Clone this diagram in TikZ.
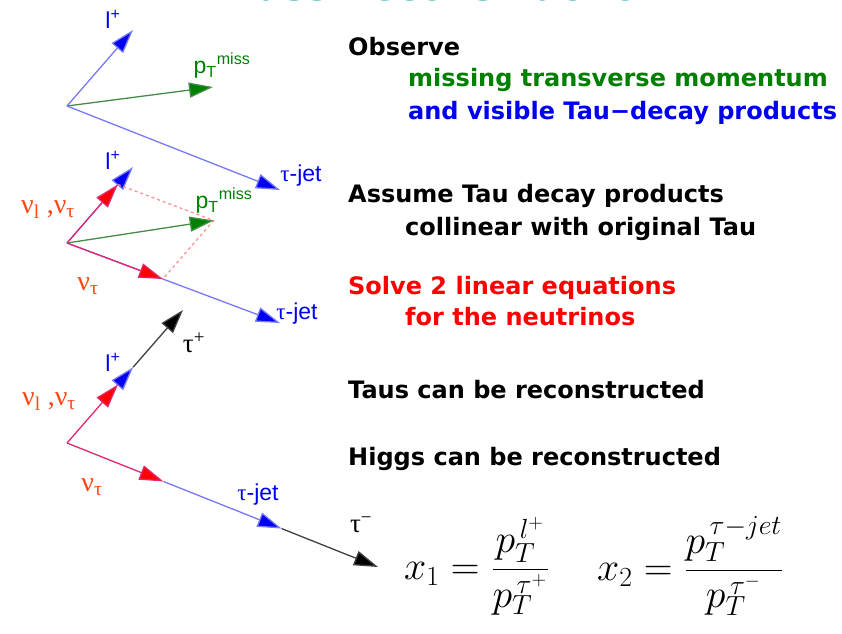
\documentclass[tikz,border=0pt]{standalone}
\usepackage{fontspec}
\setmainfont{Liberation Sans}
\newfontfamily\headfont{DejaVu Sans}
\newfontfamily\greekfont{Liberation Serif}
\usetikzlibrary{arrows.meta,calc}

\definecolor{vecblue}{RGB}{0,0,240}
\definecolor{lineblue}{RGB}{120,120,250}
\definecolor{vecgreen}{RGB}{0,128,0}
\definecolor{linegreen}{RGB}{70,140,70}
\definecolor{vecred}{RGB}{255,0,0}
\definecolor{linered}{RGB}{225,40,110}
\definecolor{nulabel}{RGB}{255,70,20}
\definecolor{titleteal}{RGB}{0,150,150}

\tikzset{
  vecarrow/.style={line width=1.3pt, -{Triangle[length=24pt,width=15pt]}},
  headtext/.style={font=\headfont\bfseries\fontsize{24}{28}\selectfont, inner sep=0pt, anchor=base west},
  veclabel/.style={font=\fontsize{23}{27}\selectfont, inner sep=0pt},
  nulabel/.style={font=\greekfont\fontsize{28}{32}\selectfont, text=nulabel, inner sep=0pt},
  taulabel/.style={font=\greekfont\fontsize{27}{31}\selectfont, inner sep=0pt},
  eqtext/.style={font=\fontsize{24}{29}\selectfont, anchor=west, inner sep=0pt},
}

\begin{document}
\begin{tikzpicture}[x=1pt, y=-1pt]
\useasboundingbox (0,0) rectangle (842,633);

% title, cut off at the top edge
\begin{scope}
  \clip (0,0) rectangle (842,633);
  \node[font=\headfont\bfseries\fontsize{38}{42}\selectfont, text=titleteal, anchor=base, inner sep=0pt] (title) at (443,0.8) {Mass Reconstruction};
\end{scope}

% observed vectors
\coordinate (o1) at (67,106);
\coordinate (l1) at (133,30);
\coordinate (m1) at (213,87);
\coordinate (j1) at (280,190);
\draw[vecarrow, lineblue, -{Triangle[length=24pt,width=15pt,fill=vecblue]}] (o1) -- (l1);
\draw[vecarrow, linegreen, -{Triangle[length=24pt,width=15pt,fill=vecgreen]}] (o1) -- (m1);
\draw[vecarrow, lineblue, -{Triangle[length=24pt,width=15pt,fill=vecblue]}] (o1) -- (j1);
\node[veclabel, text=vecblue] (lab-l1) at (113,19) {l\textsuperscript{+}};
\node[veclabel, text=vecgreen] (lab-m1) at (222,66) {p\textsubscript{T}\textsuperscript{miss}};
\node[veclabel, text=vecblue] (lab-j1) at (301,176) {{\greekfont τ}-jet};

% collinear assumption
\coordinate (o2) at (67,243);
\coordinate (l2) at (133,167);
\coordinate (j2) at (280,323);
\coordinate (n2) at ($(o2)!0.77!(l2)$);
\coordinate (v2) at ($(o2)!0.45!(j2)$);
\coordinate (m2) at ($(n2)+(v2)-(o2)$);
\draw[vecarrow, lineblue, -{Triangle[length=24pt,width=15pt,fill=vecblue]}] (o2) -- (l2);
\draw[vecarrow, lineblue, -{Triangle[length=24pt,width=15pt,fill=vecblue]}] (o2) -- (j2);
\draw[vecred!45, line width=1.2pt, dashed] (n2) -- (m2) -- (v2);
\draw[vecarrow, linegreen, -{Triangle[length=24pt,width=15pt,fill=vecgreen]}] (o2) -- (m2);
\draw[vecarrow, linered, -{Triangle[length=24pt,width=15pt,fill=vecred]}] (o2) -- (n2);
\draw[vecarrow, linered, -{Triangle[length=24pt,width=15pt,fill=vecred]}] (o2) -- (v2);
\node[veclabel, text=vecblue] (lab-l2) at (113,160) {l\textsuperscript{+}};
\node[veclabel, text=vecgreen] (lab-m2) at (224,201) {p\textsubscript{T}\textsuperscript{miss}};
\node[veclabel, text=vecblue] (lab-j2) at (297,314) {{\greekfont τ}-jet};
\node[nulabel] (lab-n2) at (48,210) {ν\textsubscript{l} ,ν\textsubscript{τ}};
\node[nulabel] (lab-v2) at (88,286) {ν\textsubscript{τ}};

% reconstructed taus
\coordinate (o3) at (67,443);
\coordinate (k3) at (183,310);
\coordinate (n3) at ($(o3)!0.44!(k3)$);
\coordinate (l3) at ($(o3)!0.57!(k3)$);
\coordinate (t3) at (378,567);
\coordinate (v3) at ($(o3)!0.31!(t3)$);
\coordinate (j3) at ($(o3)!0.69!(t3)$);
\draw[vecarrow, black!75, -{Triangle[length=24pt,width=15pt,fill=black]}] (l3) -- (k3);
\draw[vecarrow, lineblue, -{Triangle[length=24pt,width=15pt,fill=vecblue]}] (n3) -- (l3);
\draw[vecarrow, linered, -{Triangle[length=24pt,width=15pt,fill=vecred]}] (o3) -- (n3);
\draw[vecarrow, black!75, -{Triangle[length=24pt,width=15pt,fill=black]}] (j3) -- (t3);
\draw[vecarrow, lineblue, -{Triangle[length=24pt,width=15pt,fill=vecblue]}] (v3) -- (j3);
\draw[vecarrow, linered, -{Triangle[length=24pt,width=15pt,fill=vecred]}] (o3) -- (v3);
\node[veclabel, text=vecblue] (lab-l3) at (113,362) {l\textsuperscript{+}};
\node[taulabel] (lab-k3) at (194,343) {τ\textsuperscript{+}};
\node[nulabel] (lab-n3) at (49,402) {ν\textsubscript{l} ,ν\textsubscript{τ}};
\node[nulabel] (lab-v3) at (92,487) {ν\textsubscript{τ}};
\node[veclabel, text=vecblue] (lab-j3) at (258,495) {{\greekfont τ}-jet};
\node[taulabel] (lab-t3) at (361,525) {τ\textsuperscript{−}};

% explanations
\node[headtext] (observe) at (348,55) {Observe};
\node[headtext, text=vecgreen] (observe-a) at (408,86) {missing transverse momentum};
\node[headtext, text=vecblue] (observe-b) at (408,119) {and visible Tau−decay products};
\node[headtext] (assume) at (348,202) {Assume Tau decay products};
\node[headtext] (assume-a) at (405,235) {collinear with original Tau};
\node[headtext, text=vecred] (solve) at (348,294) {Solve 2 linear equations};
\node[headtext, text=vecred] (solve-a) at (405,325) {for the neutrinos};
\node[headtext] (taus) at (348,398) {Taus can be reconstructed};
\node[headtext] (higgs) at (348,465) {Higgs can be reconstructed};

% momentum fractions
\node[eqtext] (eq-x1) at (404,566) {\scalebox{1.6}{$\displaystyle x_1=\frac{p_T^{\,l^+}}{p_T^{\,\tau^+}}$}};
\node[eqtext] (eq-x2) at (597,566) {\scalebox{1.6}{$\displaystyle x_2=\frac{p_T^{\,\tau-jet}}{p_T^{\,\tau^-}}$}};
\end{tikzpicture}
\end{document}
